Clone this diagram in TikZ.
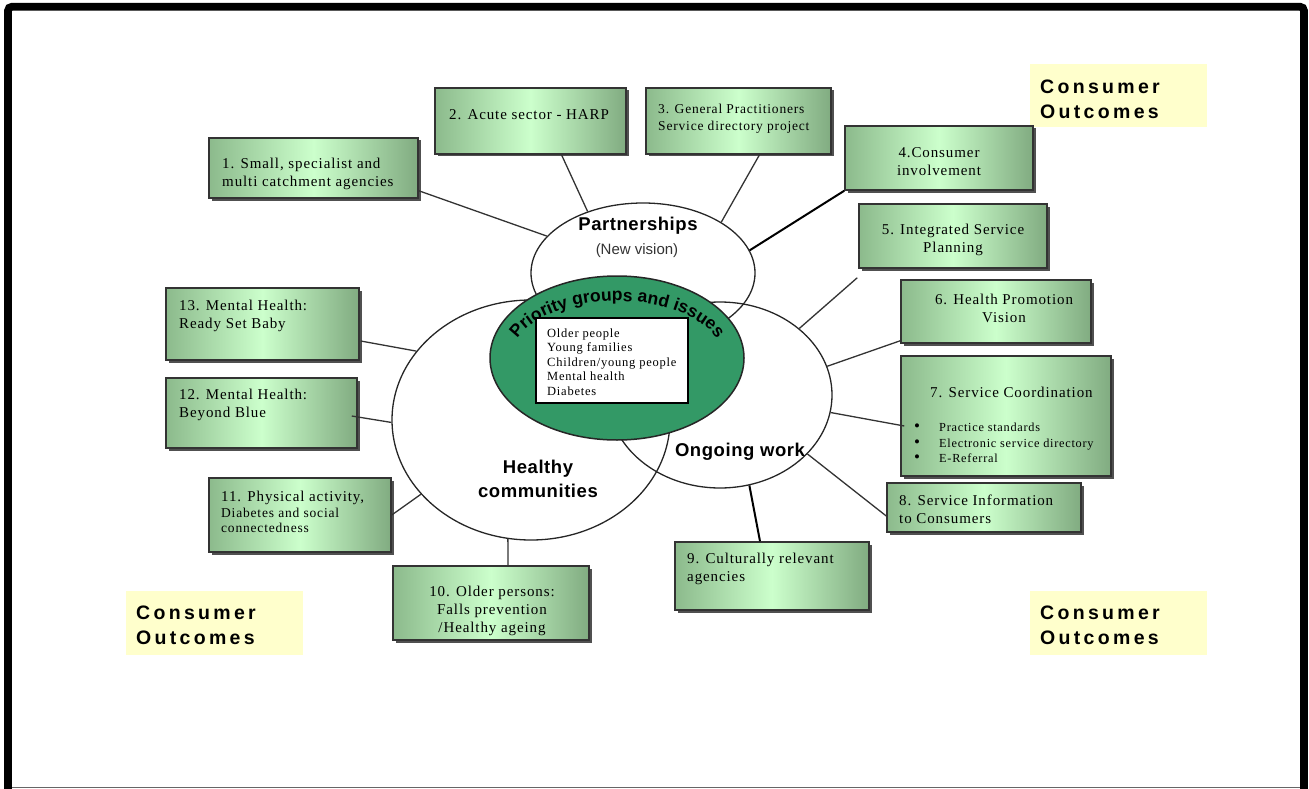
\documentclass[tikz,border=0pt]{standalone}
\usepackage{fontspec}
\setmainfont{Liberation Serif}
\setsansfont{Liberation Sans}
\newfontfamily\boxfont[LetterSpace=6]{Liberation Serif}
\newfontfamily\headfont[LetterSpace=17]{Liberation Sans}
\newfontfamily\ringfont[LetterSpace=3]{Liberation Sans}
\usetikzlibrary{shapes.geometric,shadows,decorations.text,calc}

\definecolor{boxedge}{RGB}{140,186,140}
\definecolor{boxmid}{RGB}{204,255,204}
\definecolor{shadowgray}{RGB}{80,80,80}
\definecolor{boxline}{RGB}{51,51,51}
\definecolor{outcomefill}{RGB}{255,255,204}
\definecolor{prioritygreen}{RGB}{51,153,102}

\tikzset{
  gbox/.style={draw=boxline, line width=1.5pt, left color=boxedge,
    right color=boxedge!92!black, middle color=boxmid, inner sep=0pt,
    drop shadow={shadow xshift=2.5pt, shadow yshift=-2.5pt, fill=shadowgray, opacity=1}},
  btext/.style={inner sep=0pt, align=left, font=\boxfont\fontsize{15}{18}\selectfont},
  ctext/.style={btext, align=center},
  ring/.style={ellipse, draw=black!85, line width=1.3pt, inner sep=0pt},
  ringlabel/.style={inner sep=0pt, align=center, font=\ringfont\bfseries\fontsize{18.5}{24}\selectfont},
  outcome/.style={fill=outcomefill, inner sep=0pt},
  otext/.style={inner sep=0pt, align=left, font=\headfont\bfseries\fontsize{19.5}{25}\selectfont},
  conn/.style={draw=black!80, line width=1.3pt},
  thickconn/.style={draw=black, line width=2pt},
}

% green box from its corners: name, x1, y1, x2, y2
\newcommand\greenbox[5]{%
  \node[gbox, minimum width={(#4-#2)*1pt}, minimum height={(#5-#3)*1pt}]
    (#1) at ({(#2+#4)/2},{(#3+#5)/2}) {};}
% yellow outcome box from its corners
\newcommand\outcomebox[5]{%
  \node[outcome, minimum width={(#4-#2)*1pt}, minimum height={(#5-#3)*1pt}]
    (#1) at ({(#2+#4)/2},{(#3+#5)/2}) {};}
\newcommand\itembullet{\makebox[25pt][l]{\fontsize{17}{15}\selectfont\textbullet}}

\begin{document}
\begin{tikzpicture}[x=1pt,y=-1pt]
\useasboundingbox (0,0) rectangle (1309,789);

% outer frame
\draw[line width=7.7pt, rounded corners=4pt] (8,800) -- (8,6.7) -- (1304,6.7) -- (1304,800);
\draw[black!60, line width=1pt] (12,787) -- (1300,787);

% consumer outcome panels
\outcomebox{oc1}{1030}{64}{1207}{127}
\outcomebox{oc2}{126}{591}{303}{655}
\outcomebox{oc3}{1030}{591}{1207}{655}
\node[otext, anchor=west] (oct1) at (1040,99) {Consumer\\Outcomes};
\node[otext, anchor=west] (oct2) at (136,625) {Consumer\\Outcomes};
\node[otext, anchor=west] (oct3) at (1040,625) {Consumer\\Outcomes};

% project boxes
\greenbox{b1}{209}{138}{418}{198}
\greenbox{b2}{435}{88}{626}{154}
\greenbox{b3}{646}{88}{831}{154}
\greenbox{b4}{845}{126}{1033}{190}
\greenbox{b5}{859}{204}{1047}{268}
\greenbox{b6}{901}{280}{1091}{343}
\greenbox{b7}{901}{356}{1111}{476}
\greenbox{b8}{887}{483}{1081}{532}
\greenbox{b9}{675}{542}{869}{610}
\greenbox{b10}{393}{566}{589}{640}
\greenbox{b11}{209}{478}{391}{552}
\greenbox{b12}{166}{378}{357}{448}
\greenbox{b13}{166}{288}{359}{360}

\node[btext, anchor=west] (t1) at (222,174) {1. Small, specialist and\\multi catchment agencies};
\node[btext, anchor=west] (t2) at (449,115) {2. Acute sector - HARP};
\node[btext, anchor=west, font=\boxfont\fontsize{13.5}{17}\selectfont] (t3) at (658,119) {3. General Practitioners\\Service directory project};
\node[ctext] (t4) at (939,162) {4.Consumer\\involvement};
\node[ctext] (t5) at (953,240) {5. Integrated Service\\Planning};
\node[ctext] (t6) at (1004,308) {6. Health Promotion\\Vision};
\node[btext, anchor=west] (t7) at (930,392) {7. Service Coordination};
\node[btext, anchor=west, font=\boxfont\fontsize{12.3}{15.5}\selectfont] (t7list) at (914,443)
  {\itembullet Practice standards\\
   \itembullet Electronic service directory\\
   \itembullet E-Referral};
\node[btext, anchor=west] (t8) at (899,509) {8. Service Information\\to Consumers};
\node[btext, anchor=west] (t9) at (687,569) {9. Culturally relevant\\agencies};
\node[ctext] (t10) at (492,611) {10. Older persons:\\Falls prevention\\/Healthy ageing};
\node[btext, anchor=west, font=\boxfont\fontsize{13.5}{15.5}\selectfont] (t11) at (221,512)
  {{\fontsize{15}{15.5}\selectfont 11. Physical activity,}\\Diabetes and social\\connectedness};
\node[btext, anchor=west] (t12) at (179,405) {12. Mental Health:\\Beyond Blue};
\node[btext, anchor=west] (t13) at (179,316) {13. Mental Health:\\Ready Set Baby};

% the three overlapping areas of work
\node[ring, minimum width=224pt, minimum height=140pt] (ps) at (643,273) {};
\node[ring, minimum width=278pt, minimum height=240pt] (hc) at (531,420) {};
\node[ring, minimum width=224pt, minimum height=186pt] (ow) at (720,395) {};

% connectors from the boxes to the areas
\draw[conn] ($(b1.south east)+(0,-8)$) -- (ps.159.4);
\draw[conn] ($(b2.south)+(31,0)$) -- (ps.132);
\draw[conn] ($(b3.south)+(21,0)$) -- (ps.33.7);
\draw[thickconn] (b4.south west) -- (ps.12.7);
\draw[conn] ($(b5.south west)+(-1,9)$) -- (ow.40.4);
\draw[conn] ($(b6.south west)+(0,-3)$) -- (ow.15.7);
\draw[conn] ($(b7.west)+(4,10)$) -- (ow.-9.8);
\draw[conn] ($(b8.west)+(0,8.5)$) -- (ow.-34.9);
\draw[thickconn] ($(b9.north)+(-12,0)$) -- (ow.-72.6);
\draw[conn] ($(b10.north)+(17,0)$) -- (hc.259.2);
\draw[conn] (b11.east) -- (hc.214.2);
\draw[conn] ($(b12.east)+(-6,3)$) -- (hc.181.7);
\draw[conn] ($(b13.east)+(1,17)$) -- (hc.149.9);

% labels of the areas
\node[ringlabel] (pslabel) at (638,226) {Partnerships};
\node[inner sep=0pt, text=black!80, font=\sffamily\fontsize{15}{18}\selectfont] (psnote) at (637,251) {(New vision)};
\node[ringlabel] (hclabel) at (538,479) {Healthy\\communities};
\node[ringlabel] (owlabel) at (740,452) {Ongoing work};

% priority groups core
\node[ellipse, fill=prioritygreen, draw=black!85, line width=1.5pt, inner sep=0pt,
  minimum width=254pt, minimum height=164pt] (core) at (617,358) {};
\path[decorate, decoration={text along path, text align=fit to path,
  text={|\sffamily\bfseries\fontsize{17.5}{17.5}\selectfont|Priority groups and issues}}]
  (core.center) ++(160:106pt and 57pt) arc[start angle=160, end angle=20, x radius=106pt, y radius=57pt];
\node[draw=black, fill=white, line width=1.5pt, inner sep=0pt, minimum width=152pt, minimum height=85pt]
  (plist) at (612,360.5) {};
\node[btext, anchor=west, font=\boxfont\fontsize{12.5}{14.5}\selectfont] (plisttext) at (547,362)
  {Older people\\Young families\\Children/young people\\Mental health\\Diabetes};
\end{tikzpicture}
\end{document}
